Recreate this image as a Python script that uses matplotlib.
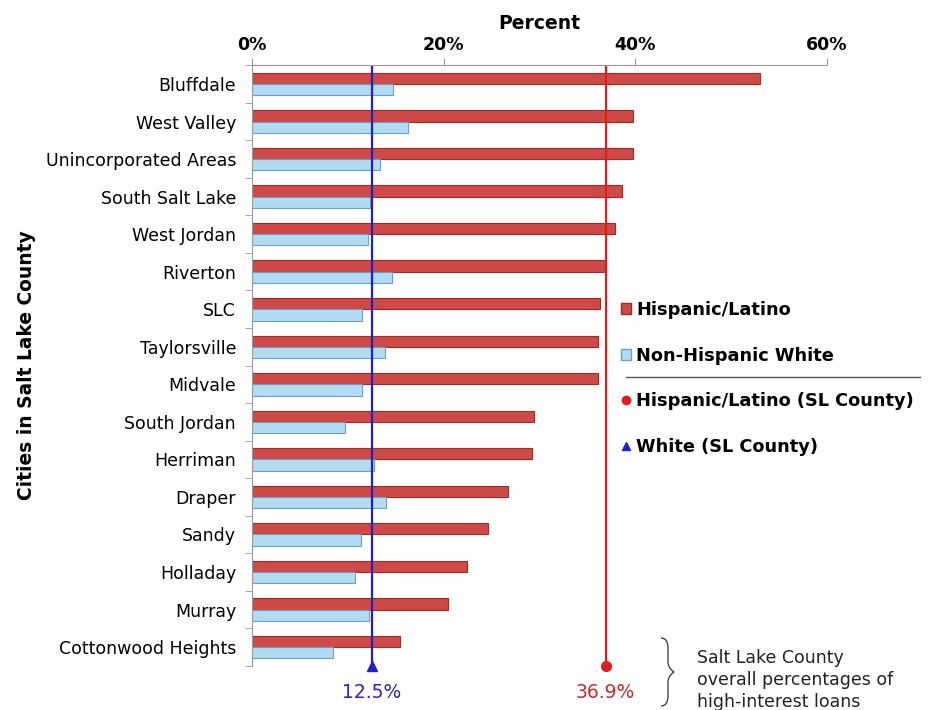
import numpy as np
import matplotlib.pyplot as plt
from matplotlib.lines import Line2D
from matplotlib.patches import Patch, PathPatch
from matplotlib.path import Path
import matplotlib.transforms as mtransforms

# high-interest loan share (%) by city
cities = ['Bluffdale', 'West Valley', 'Unincorporated Areas', 'South Salt Lake',
          'West Jordan', 'Riverton', 'SLC', 'Taylorsville', 'Midvale',
          'South Jordan', 'Herriman', 'Draper', 'Sandy', 'Holladay', 'Murray',
          'Cottonwood Heights']
hispanic = [53.0, 39.8, 39.8, 38.6, 37.9, 36.8, 36.3, 36.1, 36.1,
            29.4, 29.2, 26.7, 24.6, 22.4, 20.5, 15.4]
white = [14.7, 16.3, 13.4, 12.3, 12.1, 14.6, 11.5, 13.9, 11.5,
         9.7, 12.7, 14.0, 11.4, 10.7, 12.2, 8.5]
county_hispanic = 36.9
county_white = 12.5
xticks = [0, 20, 40, 60]

red = '#cf4a46'
red_edge = '#9c2b28'
blue = '#b2dcf4'
blue_edge = '#6b9fc8'

fig = plt.figure(figsize=(9.3, 7.1), dpi=100)
ax = fig.add_axes([252 / 930, 1 - 665.8 / 710, 575 / 930, 600.5 / 710])

y = np.arange(len(cities))
h = 0.3
ax.barh(y - h / 2, hispanic, height=h, color=red, edgecolor=red_edge, linewidth=0.8)
ax.barh(y + h / 2, white, height=h, color=blue, edgecolor=blue_edge, linewidth=0.8)

ax.set_ylim(len(cities) - 0.5, -0.5)
ax.set_xlim(0, 60)

# county reference lines with markers at the bottom edge
ax.axvline(county_white, color='#1f1fd0', lw=1.6)
ax.axvline(county_hispanic, color='#e01c1c', lw=1.6)
trans = mtransforms.blended_transform_factory(ax.transData, ax.transAxes)
ax.plot([county_white], [0], marker='^', color='#1f1fd0', ms=7,
        transform=trans, clip_on=False)
ax.plot([county_hispanic], [0], marker='o', color='#e01c1c', ms=7,
        transform=trans, clip_on=False)
ax.text(county_white, -0.045, '12.5%', color='#2a2ab0', fontsize=13.5,
        ha='center', va='center', transform=trans)
ax.text(county_hispanic, -0.045, '36.9%', color='#cc2a2a', fontsize=13.5,
        ha='center', va='center', transform=trans)

# axes styling
ax.xaxis.tick_top()
ax.xaxis.set_label_position('top')
ax.set_xticks(xticks)
ax.set_xticklabels([f'{t}%' for t in xticks], fontweight='bold', fontsize=12.5)
ax.set_xlabel('Percent', fontweight='bold', fontsize=13.5, labelpad=5)
ax.tick_params(axis='x', direction='out', length=5, color='#999999', pad=3)

ax.set_yticks(y)
ax.set_yticklabels(cities, fontsize=12.5)
ax.tick_params(axis='y', which='major', length=0, pad=11.5)
ax.set_yticks(np.arange(len(cities) + 1) - 0.5, minor=True)
ax.tick_params(axis='y', which='minor', length=5, color='#999999')
ax.set_ylabel('Cities in Salt Lake County', fontweight='bold', fontsize=13.4,
              labelpad=7)

for s in ['right', 'bottom']:
    ax.spines[s].set_visible(False)
for s in ['top', 'left']:
    ax.spines[s].set_color('#999999')

# legend
handles = [
    Patch(facecolor=red, edgecolor=red_edge, label='Hispanic/Latino'),
    Patch(facecolor=blue, edgecolor=blue_edge, label='Non-Hispanic White'),
    Line2D([], [], marker='o', color='#e01c1c', ls='none', ms=6,
           label='Hispanic/Latino (SL County)'),
    Line2D([], [], marker='^', color='#1f1fd0', ls='none', ms=6,
           label='White (SL County)'),
]
fig.legend(handles=handles, loc='upper left',
           bbox_to_anchor=(621 / 930, 1 - 301 / 710), frameon=False,
           prop={'weight': 'bold', 'size': 12.8}, labelspacing=1.55,
           handlelength=0.55, handleheight=0.55, handletextpad=0.3,
           borderpad=0, borderaxespad=0)
fig.add_artist(Line2D([626 / 930, 920 / 930], [1 - 377 / 710] * 2,
                      color='#555555', lw=1, transform=fig.transFigure))

# brace and note
bx = lambda px: px / 930
by = lambda py: 1 - py / 710
verts = [(bx(661), by(638)), (bx(668), by(638)), (bx(668), by(648)),
         (bx(668), by(662)), (bx(668), by(668)), (bx(674), by(672)),
         (bx(668), by(676)), (bx(668), by(682)), (bx(668), by(696)),
         (bx(668), by(706)), (bx(661), by(706))]
codes = [Path.MOVETO, Path.CURVE3, Path.CURVE3, Path.LINETO,
         Path.CURVE3, Path.CURVE3, Path.CURVE3, Path.CURVE3,
         Path.LINETO, Path.CURVE3, Path.CURVE3]
fig.add_artist(PathPatch(Path(verts, codes), fill=False, lw=0.9,
                         edgecolor='#333333', transform=fig.transFigure))
fig.text(697 / 930, 1 - 649 / 710,
         'Salt Lake County\noverall percentages of\nhigh-interest loans',
         fontsize=12.5, color='#222222', va='top', ha='left', linespacing=1.3)

fig.savefig('out.png', dpi=100)
